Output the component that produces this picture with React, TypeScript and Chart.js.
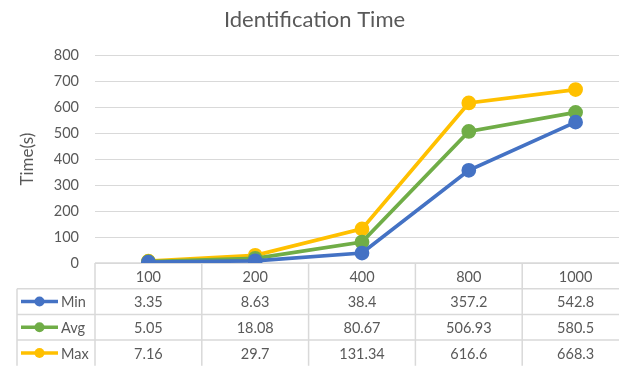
import React, { useEffect, useRef } from "react";
import { Chart, registerables } from "chart.js";

Chart.register(...registerables);

const categories = ["100", "200", "400", "800", "1000"];
const seriesNames = ["Min", "Avg", "Max"];
const minValues = [3.35, 8.63, 38.4, 357.2, 542.8];
const avgValues = [5.05, 18.08, 80.67, 506.93, 580.5];
const maxValues = [7.16, 29.7, 131.34, 616.6, 668.3];
const seriesColors = ["#4472C4", "#70AD47", "#FFC000"];

const FONT = "Lato, 'Open Sans', sans-serif";
const TEXT = "#595959";
const BORDER = "#D9D9D9";

const tablePlugin = {
  id: "dataTable",
  beforeDatasetsDraw(chart: any) {
    const { ctx, chartArea, scales } = chart;
    const x = scales.x;
    const n = categories.length;
    const colW = (chartArea.right - chartArea.left) / n;
    const top = chartArea.bottom;
    const rowH = 25.7;
    const tableLeft = 17;
    const rows = seriesNames.length;
    ctx.save();
    ctx.strokeStyle = BORDER;
    ctx.lineWidth = 1.5;
    ctx.beginPath();
    ctx.moveTo(chartArea.left, top);
    ctx.lineTo(chartArea.right, top);
    for (let r = 1; r <= rows; r++) {
      const y = top + r * rowH;
      ctx.moveTo(tableLeft, y);
      ctx.lineTo(chartArea.right, y);
    }
    for (let c = 0; c <= n; c++) {
      const xx = chartArea.left + c * colW;
      ctx.moveTo(xx, top);
      ctx.lineTo(xx, top + rows * rowH + rowH);
    }
    ctx.moveTo(tableLeft, top + rowH);
    ctx.lineTo(tableLeft, top + (rows + 1) * rowH);
    ctx.stroke();

    ctx.fillStyle = TEXT;
    ctx.font = `14.5px ${FONT}`;
    ctx.textAlign = "center";
    ctx.textBaseline = "middle";
    categories.forEach((c, i) => {
      ctx.fillText(c, x.getPixelForValue(i), top + rowH / 2 + 1);
    });
    chart.data.datasets.forEach((ds: any, r: number) => {
      const cy = top + (r + 1) * rowH + rowH / 2 + 1;
      ds.data.forEach((v: number, i: number) => {
        ctx.fillStyle = TEXT;
        ctx.textAlign = "center";
        ctx.fillText(String(v), x.getPixelForValue(i), cy);
      });
      ctx.strokeStyle = ds.borderColor;
      ctx.lineWidth = 3.5;
      ctx.beginPath();
      ctx.moveTo(21, cy - 1);
      ctx.lineTo(58, cy - 1);
      ctx.stroke();
      ctx.fillStyle = ds.borderColor;
      ctx.beginPath();
      ctx.arc(39.5, cy - 1, 5, 0, Math.PI * 2);
      ctx.fill();
      ctx.fillStyle = TEXT;
      ctx.textAlign = "left";
      ctx.fillText(ds.label, 61, cy);
    });
    ctx.restore();
  },
};

export default function App() {
  const ref = useRef<HTMLCanvasElement>(null);
  useEffect(() => {
    const values = [minValues, avgValues, maxValues];
    const chart = new Chart(ref.current!, {
      type: "line",
      data: {
        labels: categories,
        datasets: seriesNames.map((name, i) => ({
          label: name,
          data: values[i],
          borderColor: seriesColors[i],
          backgroundColor: seriesColors[i],
          borderWidth: 3.75,
          pointRadius: 5.5,
          pointHoverRadius: 5.5,
          pointBackgroundColor: seriesColors[i],
          pointBorderColor: seriesColors[i],
          tension: 0,
        })),
      },
      options: {
        animation: false,
        responsive: false,
        devicePixelRatio: 1,
        layout: { padding: { left: 0, right: 11, top: 0, bottom: 104 } },
        plugins: {
          legend: { display: false },
          tooltip: { enabled: false },
          title: {
            display: true,
            text: "Identification Time",
            color: TEXT,
            font: { family: FONT, size: 22, weight: "normal" },
            padding: { top: 7, bottom: 22 },
          },
        },
        scales: {
          x: {
            display: false,
            offset: true,
          },
          y: {
            min: 0,
            max: 800,
            ticks: {
              stepSize: 100,
              color: TEXT,
              padding: 16,
              font: { family: FONT, size: 14.5 },
            },
            grid: { color: BORDER, lineWidth: 1, drawTicks: false },
            border: { display: false },
            title: {
              display: true,
              text: "Time(s)",
              color: TEXT,
              font: { family: FONT, size: 17 },
              padding: { top: 17, bottom: 0 },
            },
            afterFit: (s: any) => {
              s.width = 95;
            },
          },
        },
      },
      plugins: [tablePlugin],
    } as any);
    return () => chart.destroy();
  }, []);
  return (
    <div style={{ position: "fixed", left: 0, top: 0, width: 619, height: 367, overflow: "hidden", background: "#fff" }}>
      <canvas ref={ref} width={640} height={367} style={{ display: "block" }} />
    </div>
  );
}
